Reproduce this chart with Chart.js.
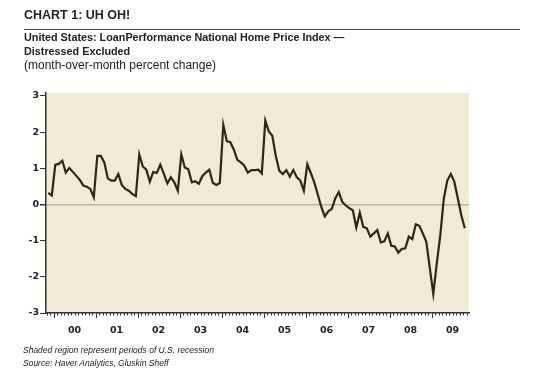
<!DOCTYPE html>
<html>
<head>
<meta charset="utf-8">
<script src="https://cdn.jsdelivr.net/npm/chart.js@4.4.1/dist/chart.umd.min.js"></script>
<style>
  body { margin: 0; background: #fff; width: 537px; height: 374px; overflow: hidden; position: relative; font-family: "Liberation Sans", Arial, sans-serif; color: #222; }
  #chartBox { position: absolute; left: 0; top: 0; width: 537px; height: 374px; }
  .txt { position: absolute; left: 24px; white-space: nowrap; }
  #title { top: 8px; font-size: 12.5px; font-weight: bold; }
  #rule { position: absolute; left: 24px; top: 29px; width: 496px; height: 0; border-top: 1.5px solid #444; }
  #sub1 { top: 31px; font-size: 10.8px; font-weight: bold; }
  #sub2 { top: 45px; font-size: 10.8px; font-weight: bold; }
  #sub3 { top: 58px; font-size: 12px; }
  #note1 { left: 23px; top: 345px; font-size: 8.5px; font-style: italic; }
  #note2 { left: 23px; top: 358px; font-size: 8.5px; font-style: italic; }
</style>
</head>
<body>
<div id="chartBox"><canvas id="hpiChart" width="537" height="374"></canvas></div>
<div class="txt" id="title">CHART 1: UH OH!</div>
<div id="rule"></div>
<div class="txt" id="sub1">United States: LoanPerformance National Home Price Index —</div>
<div class="txt" id="sub2">Distressed Excluded</div>
<div class="txt" id="sub3">(month-over-month percent change)</div>
<div class="txt" id="note1">Shaded region represent periods of U.S. recession</div>
<div class="txt" id="note2">Source: Haver Analytics, Gluskin Sheff</div>
<script>
'use strict';
/* ------------------------------------------------------------ DATA */
// monthly series, first value is Nov 1999
const yearLabels = ['00', '01', '02', '03', '04', '05', '06', '07', '08', '09'];
const yTicks = [-3, -2, -1, 0, 1, 2, 3];
const hpiChange = [
  0.32, 0.25, 1.10, 1.12, 1.21, 0.88, 1.01, 0.90, 0.79, 0.68,
  0.52, 0.49, 0.43, 0.20, 1.34, 1.34, 1.16, 0.72, 0.66, 0.66,
  0.84, 0.54, 0.43, 0.38, 0.29, 0.23, 1.38, 1.05, 0.96, 0.63,
  0.90, 0.87, 1.10, 0.85, 0.58, 0.75, 0.61, 0.38, 1.38, 1.02,
  0.97, 0.61, 0.64, 0.57, 0.78, 0.88, 0.96, 0.60, 0.54, 0.59,
  2.20, 1.75, 1.72, 1.52, 1.23, 1.16, 1.07, 0.88, 0.95, 0.95,
  0.96, 0.86, 2.32, 2.02, 1.90, 1.34, 0.93, 0.84, 0.95, 0.77,
  0.95, 0.75, 0.66, 0.38, 1.11, 0.87, 0.61, 0.27, -0.07, -0.33,
  -0.19, -0.12, 0.17, 0.34, 0.07, -0.03, -0.10, -0.16, -0.64, -0.23,
  -0.62, -0.66, -0.89, -0.80, -0.71, -1.05, -1.02, -0.80, -1.14, -1.16,
  -1.33, -1.23, -1.21, -0.89, -0.96, -0.55, -0.59, -0.80, -1.03, -1.76,
  -2.47, -1.62, -0.85, 0.16, 0.66, 0.84, 0.63, 0.17, -0.30, -0.66
];

// index 0 = Nov 1999, so Jan 2000 starts at 1.5
const firstJan = 1.5;

/* ------------------------------------------------------------ PLUGINS */
const plotBackground = {
  id: 'plotBackground',
  beforeDraw(chart) {
    const a = chart.chartArea;
    const ctx = chart.ctx;
    ctx.save();
    ctx.fillStyle = '#f1ead6';
    ctx.fillRect(a.left, a.top, a.right - a.left, a.bottom - a.top);
    ctx.restore();
  }
};
//beige plot area

const monthTicks = {
  id: 'monthTicks',
  afterDraw(chart) {
    const xs = chart.scales.x;
    const ctx = chart.ctx;
    const bottom = chart.chartArea.bottom;
    ctx.save();
    ctx.strokeStyle = '#333';
    ctx.lineWidth = 1;
    for (let n = -2; n < 125; n++) {
      const v = firstJan + n;
      if (v < xs.min || v > xs.max) continue;
      const px = Math.round(xs.getPixelForValue(v)) + 0.5;
      const len = (n % 12 === 0) ? 5 : 2.5;
      ctx.beginPath();
      ctx.moveTo(px, bottom);
      ctx.lineTo(px, bottom + len);
      ctx.stroke();
    }
    ctx.restore();
  }
};
//small month ticks with longer ones at each January

/* ------------------------------------------------------------ CHART */
const points = hpiChange.map((v, i) => ({ x: i, y: v }));

new Chart(document.getElementById('hpiChart'), {
  type: 'line',
  data: {
    datasets: [{
      data: points,
      borderColor: '#2c2912',
      borderWidth: 2.2,
      pointRadius: 0,
      tension: 0,
      fill: false
    }]
  },
  options: {
    responsive: false,
    animation: false,
    devicePixelRatio: 1,
    layout: { padding: { left: 0, top: 93, right: 68, bottom: 0 } },
    plugins: { legend: { display: false }, tooltip: { enabled: false } },
    scales: {
      x: {
        type: 'linear',
        min: -0.66,
        max: 120.2,
        afterBuildTicks(scale) {
          scale.ticks = yearLabels.map((l, k) => ({ value: firstJan + 6 + 12 * k }));
        },
        afterFit(scale) { scale.height = 61; },
        grid: { display: false },
        border: { display: true, color: '#333', width: 1.5 },
        ticks: {
          autoSkip: false,
          maxRotation: 0,
          padding: 4,
          color: '#222',
          font: { family: 'DejaVu Sans', size: 9.5, weight: 'bold' },
          callback: (v, i) => yearLabels[i]
        }
      },
      y: {
        min: -3,
        max: 3.08,
        afterBuildTicks(scale) {
          scale.ticks = yTicks.map(v => ({ value: v }));
        },
        afterFit(scale) { scale.width = 46; },
        grid: {
          drawOnChartArea: true,
          drawTicks: true,
          tickLength: 6,
          tickColor: '#333',
          color: ctx => (ctx.tick && ctx.tick.value === 0) ? '#bdb49f' : 'rgba(0,0,0,0)',
          lineWidth: ctx => (ctx.tick && ctx.tick.value === 0) ? 1.5 : 1
        },
        border: { display: true, color: '#333', width: 1.5 },
        ticks: {
          padding: 1,
          color: '#222',
          font: { family: 'DejaVu Sans', size: 9.5, weight: 'bold' }
        }
      }
    }
  },
  plugins: [plotBackground, monthTicks]
});
</script>
</body>
</html>
